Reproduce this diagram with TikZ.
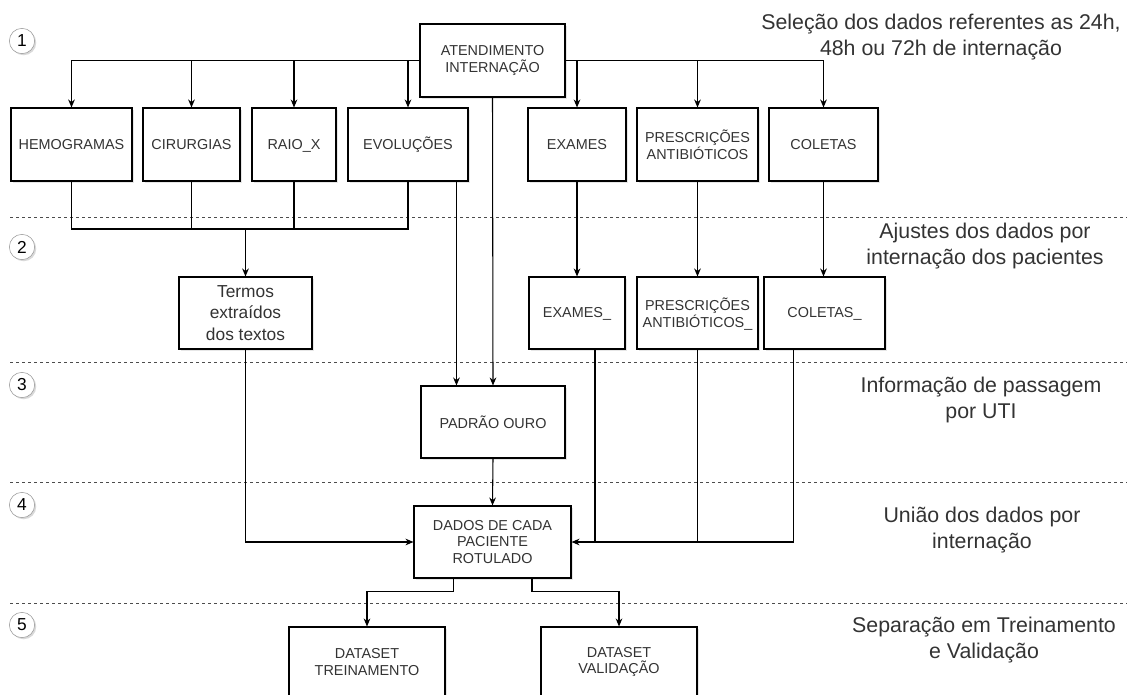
\documentclass[tikz,border=0pt]{standalone}
\usepackage{fontspec}
\setmainfont{Liberation Sans}
\usetikzlibrary{arrows.meta, shadows}

\begin{document}
\begin{tikzpicture}[x=0.75pt, y=-0.75pt,
    caixa/.style={draw, thick, fill=white, align=center, inner sep=0pt, text=black!80,
        font=\fontsize{10.8}{12.5}\selectfont,
        drop shadow={opacity=0.2, shadow xshift=1.5pt, shadow yshift=-1.5pt}},
    etapa/.style={circle, draw=black!40, fill=white, inner sep=0pt, minimum size=19pt,
        font=\fontsize{13}{14}\selectfont,
        drop shadow={opacity=0.3, shadow xshift=1.2pt, shadow yshift=-1.2pt}},
    legenda/.style={align=center, text=black!80, font=\fontsize{16}{20}\selectfont},
    seta/.style={-{Stealth[length=6pt, width=5pt]}, thick},
    liga/.style={thick},
    divisa/.style={dashed, black!70, dash pattern=on 2.5pt off 2pt}]
    \useasboundingbox (0,0) rectangle (1127,695);

    % Separators between the stages
    \foreach \y in {217, 362, 482, 603} {
        \draw[divisa] (10,\y) -- (1127,\y);
    }

    % Stage numbers
    \node[etapa] (n1) at (22,41) {1};
    \node[etapa] (n2) at (22,247) {2};
    \node[etapa] (n3) at (22,385) {3};
    \node[etapa] (n4) at (22,505) {4};
    \node[etapa] (n5) at (22,625) {5};

    % Stage descriptions
    \node[legenda] (l1) at (941,37) {Seleção dos dados referentes as 24h,\\48h ou 72h de internação};
    \node[legenda] (l2) at (985,246) {Ajustes dos dados por\\internação dos pacientes};
    \node[legenda] (l3) at (981,400) {Informação de passagem\\por UTI};
    \node[legenda] (l4) at (982,530) {União dos dados por\\internação};
    \node[legenda] (l5) at (984,640) {Separação em Treinamento\\e Validação};

    % Stage 1
    \node[caixa, minimum width=108.75pt, minimum height=54.75pt] (atend) at (492.5,60.5) {ATENDIMENTO\\INTERNAÇÃO};
    \node[caixa, minimum width=90.75pt, minimum height=54.75pt] (hemo) at (71.5,144.5) {HEMOGRAMAS};
    \node[caixa, minimum width=72.75pt, minimum height=54.75pt] (cirurg) at (191.5,144.5) {CIRURGIAS};
    \node[caixa, minimum width=63pt, minimum height=54.75pt] (raio) at (294,144.5) {RAIO\smash{\_}X};
    \node[caixa, minimum width=90pt, minimum height=54.75pt] (evol) at (408,144.5) {EVOLUÇÕES};
    \node[caixa, minimum width=73.5pt, minimum height=54.75pt] (exames) at (577,144.5) {EXAMES};
    \node[caixa, minimum width=90.75pt, minimum height=54.75pt] (presc) at (697.5,144.5) {PRESCRIÇÕES\\ANTIBIÓTICOS};
    \node[caixa, minimum width=81.75pt, minimum height=54.75pt] (coletas) at (823.5,144.5) {COLETAS};

    % Stage 2
    \node[caixa, minimum width=99.75pt, minimum height=54pt,
        font=\fontsize{13}{16}\selectfont] (termos) at (245.5,313) {Termos\\extraídos\\dos textos};
    \node[caixa, minimum width=72pt, minimum height=54pt] (exames2) at (577,313) {EXAMES\smash{\_}};
    \node[caixa, minimum width=90.75pt, minimum height=54pt] (presc2) at (697.5,313) {PRESCRIÇÕES\\ANTIBIÓTICOS\smash{\_}};
    \node[caixa, minimum width=90.75pt, minimum height=54pt] (coletas2) at (824.5,313) {COLETAS\smash{\_}};

    % Stages 3 to 5
    \node[caixa, minimum width=108pt, minimum height=54pt] (padrao) at (493,422) {PADRÃO OURO};
    \node[caixa, minimum width=117.75pt, minimum height=54pt] (dados) at (492.5,542) {DADOS DE CADA\\PACIENTE\\ROTULADO};
    \node[caixa, minimum width=117pt, minimum height=52.5pt] (treino) at (367,662) {DATASET\\TREINAMENTO};
    \node[caixa, minimum width=117pt, minimum height=52.5pt] (valid) at (619,662) {DATASET\\VALIDAÇÃO};

    % Distribution from the admission record
    \draw[seta] (atend.west) -| (hemo.north);
    \draw[seta] (atend.west -| cirurg.north) -- (cirurg.north);
    \draw[seta] (atend.west -| raio.north) -- (raio.north);
    \draw[seta] (atend.west -| evol.north) -- (evol.north);
    \draw[seta] (atend.east) -| (coletas.north);
    \draw[seta] (atend.east -| exames.north) -- (exames.north);
    \draw[seta] (atend.east -| presc.north) -- (presc.north);

    % Texts gathered into the extracted terms
    \coordinate (jtexto) at (245.5,229);
    \draw[liga] (hemo.south) |- (evol.south |- jtexto) -- (evol.south);
    \draw[liga] (cirurg.south) -- (cirurg.south |- jtexto);
    \draw[liga] (raio.south) -- (raio.south |- jtexto);
    \draw[seta] (jtexto) -- (termos.north);

    % Adjusted tables
    \draw[seta] (exames.south) -- (exames2.north);
    \draw[seta] (presc.south) -- (presc2.north);
    \draw[seta] (coletas.south) -- (coletas.south |- coletas2.north);

    % Gold standard
    \draw[seta] ([xshift=27pt]padrao.north west |- evol.south) -- ([xshift=27pt]padrao.north west);
    \draw[seta] (atend.south) -- (padrao.north);

    % Union of the data
    \draw[seta] (termos.south) |- (dados.west);
    \draw[seta] (padrao.south) -- (dados.north);
    \draw[seta] ([xshift=-23pt]coletas2.south) |- (dados.east);
    \draw[liga] (presc2.south) -- (presc2.south |- dados.east);
    \draw[liga] ([xshift=13.5pt]exames2.south) -- ([xshift=13.5pt]exames2.south |- dados.east);

    % Split into training and validation
    \draw[seta] ([xshift=-29pt]dados.south) -- ++(0,13) -| (treino.north);
    \draw[seta] ([xshift=29.6pt]dados.south) -- ++(0,13) -| (valid.north);
\end{tikzpicture}
\end{document}
